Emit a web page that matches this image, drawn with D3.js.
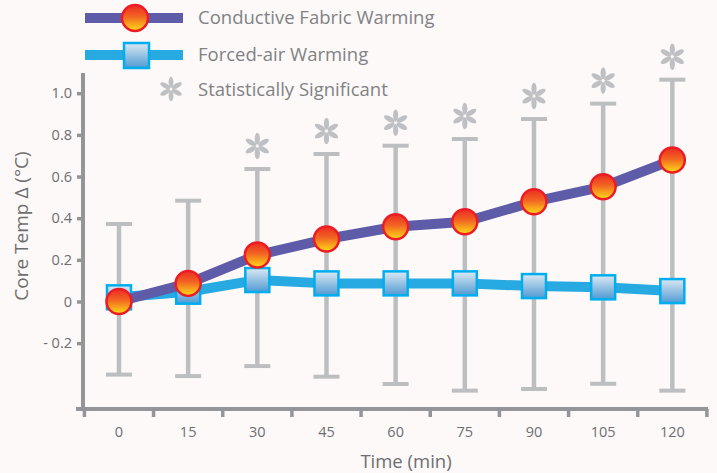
<!DOCTYPE html>
<html>
<head>
<meta charset="utf-8">
<script src="https://cdn.jsdelivr.net/npm/d3@7"></script>
<style>
  html, body { margin: 0; padding: 0; background: #fdf9f8; }
  svg { display: block; }
  text { font-family: "Open Sans", "Noto Sans", sans-serif; }
</style>
</head>
<body>
<svg id="chart" width="717" height="473"></svg>
<script>
// ---- data ----
const times = ["0", "15", "30", "45", "60", "75", "90", "105", "120"];
const conductive = [0.0, 0.087, 0.223, 0.30, 0.359, 0.383, 0.479, 0.551, 0.679];
const forcedAir = [0.02, 0.047, 0.103, 0.087, 0.087, 0.087, 0.074, 0.068, 0.05];
const errUpper = [0.372, 0.484, 0.636, 0.708, 0.748, 0.78, 0.876, 0.95, 1.065];
const errLower = [-0.351, -0.358, -0.31, -0.361, -0.396, -0.428, -0.42, -0.395, -0.428];
const significant = [false, false, true, true, true, true, true, true, true];
const yTicks = [-0.2, 0, 0.2, 0.4, 0.6, 0.8, 1.0];
const yTickLabels = ["- 0.2", "0", "0.2", "0.4", "0.6", "0.8", "1.0"];
const seriesNames = ["Conductive Fabric Warming", "Forced-air Warming", "Statistically Significant"];

const svg = d3.select("#chart");
const defs = svg.append("defs");

// gradients
const gC = defs.append("linearGradient").attr("id", "gCircle").attr("x1", 0).attr("y1", 0).attr("x2", 0).attr("y2", 1);
gC.append("stop").attr("offset", "0%").attr("stop-color", "#ec2a24");
gC.append("stop").attr("offset", "45%").attr("stop-color", "#f26522");
gC.append("stop").attr("offset", "100%").attr("stop-color", "#ffde17");
const gS = defs.append("linearGradient").attr("id", "gSquare").attr("x1", 0).attr("y1", 0).attr("x2", 0).attr("y2", 1);
gS.append("stop").attr("offset", "0%").attr("stop-color", "#dce9f3");
gS.append("stop").attr("offset", "100%").attr("stop-color", "#4f9ad3");

// scales
const x = d3.scaleBand().domain(times).range([84.4, 706.9]);
const xc = d => x(d) + x.bandwidth() / 2;
const y = d3.scaleLinear().domain([0, 1]).range([301.5, 93.2]);

const axisColor = "#939598";
const textColor = "#6d6e71";

// y axis
const yAxis = d3.axisLeft(y).tickValues(yTicks).tickFormat((d, i) => yTickLabels[i]).tickSize(6).tickPadding(5);
const gy = svg.append("g").attr("transform", "translate(83,0)").call(yAxis);
gy.select(".domain").remove();
gy.selectAll(".tick line").attr("stroke", axisColor).attr("stroke-width", 3.5);
gy.selectAll(".tick text").attr("fill", textColor).style("font-size", "14.5px").style("font-family", "'Open Sans', sans-serif");
svg.append("line").attr("x1", 83).attr("x2", 83).attr("y1", 73).attr("y2", 411)
  .attr("stroke", axisColor).attr("stroke-width", 4);

// x axis
const xAxis = d3.axisBottom(x).tickSize(0).tickPadding(18);
const gx = svg.append("g").attr("transform", "translate(0,409)").call(xAxis);
gx.select(".domain").remove();
gx.selectAll(".tick text").attr("fill", textColor).style("font-size", "14.5px").style("font-family", "'Open Sans', sans-serif");
svg.append("line").attr("x1", 76).attr("x2", 708).attr("y1", 409).attr("y2", 409)
  .attr("stroke", axisColor).attr("stroke-width", 4);
// boundary ticks
const bounds = times.map(t => x(t)).concat([x.range()[1]]);
svg.append("g").selectAll("line").data(bounds).join("line")
  .attr("x1", d => d).attr("x2", d => d).attr("y1", 409).attr("y2", 417)
  .attr("stroke", axisColor).attr("stroke-width", 3.5);

// axis titles
svg.append("text").attr("x", 406).attr("y", 468).attr("text-anchor", "middle")
  .attr("fill", textColor).style("font-size", "18.5px").text("Time (min)");
svg.append("text").attr("transform", "translate(28,226) rotate(-90)").attr("text-anchor", "middle")
  .attr("fill", textColor).style("font-size", "19px").text("Core Temp Δ (°C)");

// error bars
const errColor = "#bcbec0";
const eb = svg.append("g");
times.forEach((t, i) => {
  const cx = xc(t);
  eb.append("line").attr("x1", cx).attr("x2", cx).attr("y1", y(errUpper[i])).attr("y2", y(errLower[i]))
    .attr("stroke", errColor).attr("stroke-width", 4.5);
  [errUpper[i], errLower[i]].forEach(v => {
    eb.append("line").attr("x1", cx - 13).attr("x2", cx + 13).attr("y1", y(v)).attr("y2", y(v))
      .attr("stroke", errColor).attr("stroke-width", 4);
  });
});

// asterisk drawing
function asterisk(g, cx, cy, r) {
  const a = g.append("g").attr("transform", `translate(${cx},${cy})`);
  for (let k = 0; k < 6; k++) {
    a.append("ellipse").attr("cx", 0).attr("cy", -r * 0.56).attr("rx", r * 0.2).attr("ry", r * 0.46)
      .attr("transform", `rotate(${k * 60})`).attr("fill", "#bfc0c3");
  }
}
const ast = svg.append("g");
times.forEach((t, i) => {
  if (significant[i]) asterisk(ast, xc(t), y(errUpper[i]) - 23, 13);
});

// lines
const line = d3.line().x((d, i) => xc(times[i])).y(d => y(d));
svg.append("path").datum(forcedAir).attr("d", line).attr("fill", "none")
  .attr("stroke", "#27aae1").attr("stroke-width", 10).attr("stroke-linejoin", "round");
// squares
svg.append("g").selectAll("rect").data(forcedAir).join("rect")
  .attr("x", (d, i) => xc(times[i]) - 12).attr("y", d => y(d) - 12)
  .attr("width", 24).attr("height", 24)
  .attr("fill", "url(#gSquare)").attr("stroke", "#00aeef").attr("stroke-width", 2.5);

svg.append("path").datum(conductive).attr("d", line).attr("fill", "none")
  .attr("stroke", "#5e5ba8").attr("stroke-width", 10).attr("stroke-linejoin", "round");
svg.append("g").selectAll("circle").data(conductive).join("circle")
  .attr("cx", (d, i) => xc(times[i])).attr("cy", d => y(d)).attr("r", 12.5)
  .attr("fill", "url(#gCircle)").attr("stroke", "#ed1c24").attr("stroke-width", 2.5);

// legend
const lg = svg.append("g");
lg.append("line").attr("x1", 85).attr("x2", 183).attr("y1", 18).attr("y2", 18).attr("stroke", "#5e5ba8").attr("stroke-width", 10);
lg.append("circle").attr("cx", 135).attr("cy", 18).attr("r", 13).attr("fill", "url(#gCircle)").attr("stroke", "#ed1c24").attr("stroke-width", 2.5);
lg.append("line").attr("x1", 85).attr("x2", 183).attr("y1", 55).attr("y2", 55).attr("stroke", "#27aae1").attr("stroke-width", 10);
lg.append("rect").attr("x", 124).attr("y", 43).attr("width", 25).attr("height", 25).attr("fill", "url(#gSquare)").attr("stroke", "#00aeef").attr("stroke-width", 2.5);
asterisk(lg, 171, 89, 12);
const ly = [18, 55, 90];
seriesNames.forEach((n, i) => {
  lg.append("text").attr("x", 198).attr("y", ly[i]).attr("dy", "0.35em")
    .attr("fill", "#808285").style("font-size", "18.5px").text(n);
});
</script>
</body>
</html>
